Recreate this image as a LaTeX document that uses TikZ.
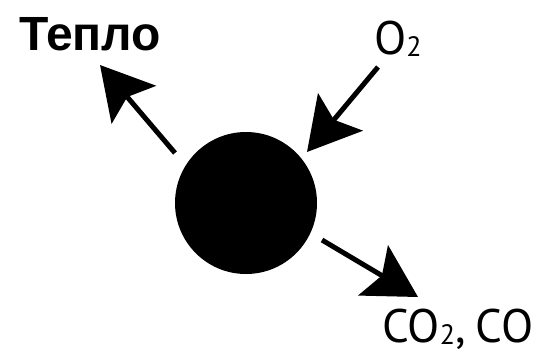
\documentclass[tikz,border=0pt]{standalone}
\usepackage{fontspec}
\setmainfont{Liberation Sans}
\newfontfamily\labfont{PT Sans}
\usetikzlibrary{arrows.meta}
\tikzset{
  flow/.style={line width=5pt, -{Stealth[length=52pt,width=58pt,inset=10pt]}},
  lab/.style={inner sep=0pt, anchor=base west, font=\labfont\fontsize{47}{47}\selectfont},
}
\newcommand{\subtwo}{{\fontsize{28}{28}\selectfont\raisebox{-2pt}{2}}}
\begin{document}
\begin{tikzpicture}[x=1pt,y=-1pt]
\useasboundingbox (0,0) rectangle (537,354);
\node[circle, fill=black, minimum size=142pt, inner sep=0pt] (core) at (246,203) {};
\node[inner sep=0pt, anchor=base west, font=\bfseries\fontsize{48}{48}\selectfont] (heat) at (19,50) {Тепло};
\node[lab] (oxy) at (374,54) {O\subtwo};
\node[lab] (prod) at (382,342) {CO\subtwo,\hspace{-3pt} CO};
\coordinate (heatTail) at (175,153);
\coordinate (heatTip) at (100,65);
\coordinate (oxyTail) at (378,67);
\coordinate (oxyTip) at (307,152);
\coordinate (prodTail) at (322,240);
\coordinate (prodTip) at (418,297);
\draw[flow] (heatTail) -- (heatTip);
\draw[flow] (oxyTail) -- (oxyTip);
\draw[flow] (prodTail) -- (prodTip);
\end{tikzpicture}
\end{document}
